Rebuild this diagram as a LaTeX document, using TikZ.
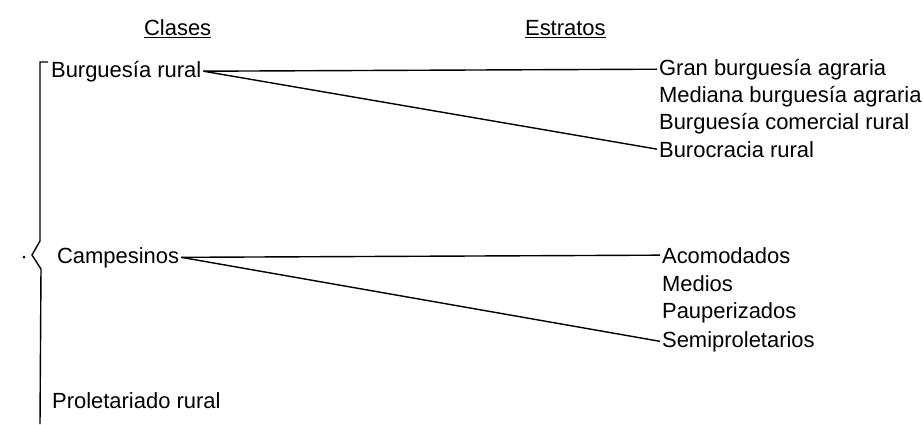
\documentclass[tikz,border=0pt]{standalone}
\usepackage{fontspec}
\setmainfont{Liberation Sans}
\usepackage{tikz}
\usetikzlibrary{positioning}

\begin{document}
\begin{tikzpicture}[x=0.02cm,y=-0.02cm,
  txt/.style={anchor=base west,inner sep=1pt,font=\fontsize{12.5}{14}\selectfont},
  link/.style={thick}]
\useasboundingbox (0,0) rectangle (923,424);

% headings
\path (142,35) node[txt] (hclases) {\underline{Clases}};
\path (523,35) node[txt] (hestratos) {\underline{Estratos}};

% classes
\path (49,77)  node[txt] (burg) {Burguesía rural};
\path (55,263) node[txt] (camp) {Campesinos};
\path (50,408) node[txt] (prol) {Proletariado rural};

% strata
\path (657,75)  node[txt] (gran) {Gran burguesía agraria};
\path (657,102) node[txt] (medb) {Mediana burguesía agraria};
\path (657,129) node[txt] (come) {Burguesía comercial rural};
\path (657,157) node[txt] (buro) {Burocracia rural};
\path (660,263) node[txt] (acom) {Acomodados};
\path (660,291) node[txt] (medi) {Medios};
\path (660,318) node[txt] (paup) {Pauperizados};
\path (660,347) node[txt] (semi) {Semiproletarios};

\draw[link] (burg.east) to (gran.west);
\draw[link] (burg.east) to (buro.west);
\draw[link] (camp.east) to (acom.west);
\draw[link] (camp.east) to (semi.west);

% brace
\draw[link] (48,62) -- (40,62) -- (40,241) -- (32,255) -- (41,269) -- (40,424);
\fill (24,257) circle (1.5);
\end{tikzpicture}
\end{document}
